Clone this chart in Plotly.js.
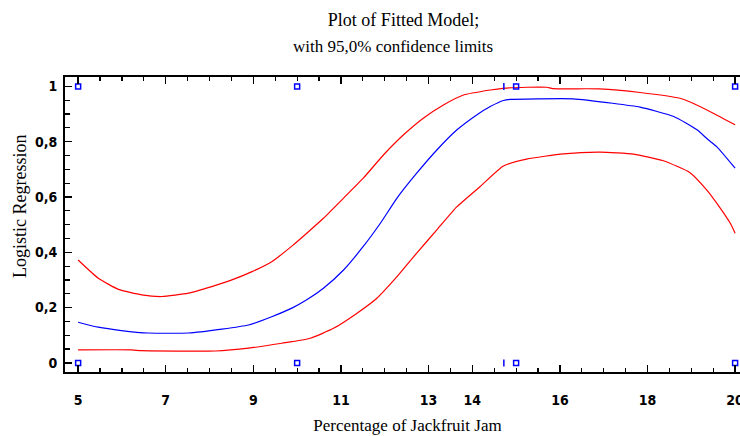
<!DOCTYPE html>
<html>
<head>
<meta charset="utf-8">
<script src="https://cdn.plot.ly/plotly-3.0.1.min.js"></script>
<style>
  html, body { margin: 0; padding: 0; background: #ffffff; overflow: hidden; }
  #chart { width: 760px; height: 436px; }
</style>
</head>
<body>
<div id="chart"></div>
<script>
// ---- data ----
const fitX = [5.0, 5.46, 5.99, 6.6, 7.52, 8.28, 8.89, 9.42, 9.88, 10.22, 10.6, 11.06, 11.51, 11.9, 12.28, 12.73, 13.19, 13.65, 14.1, 14.41, 14.71, 14.86, 15.5, 16.3, 17.2, 17.83, 18.6, 19.13, 19.38, 19.58, 20.0];
const fitY = [0.147, 0.129, 0.117, 0.108, 0.108, 0.122, 0.137, 0.167, 0.198, 0.228, 0.270, 0.336, 0.421, 0.505, 0.596, 0.686, 0.770, 0.843, 0.897, 0.927, 0.949, 0.953, 0.955, 0.955, 0.939, 0.925, 0.891, 0.843, 0.808, 0.782, 0.704];

const upperX = [5.0, 5.46, 5.92, 6.45, 6.91, 7.52, 8.05, 8.51, 8.97, 9.42, 9.9, 10.22, 10.6, 11.06, 11.51, 11.97, 12.43, 12.88, 13.34, 13.8, 14.41, 14.7, 15.25, 15.7, 15.84, 16.9, 17.83, 18.74, 19.04, 19.5, 20.0];
const upperY = [0.372, 0.306, 0.266, 0.246, 0.240, 0.252, 0.276, 0.300, 0.330, 0.366, 0.425, 0.469, 0.523, 0.596, 0.668, 0.752, 0.825, 0.885, 0.933, 0.969, 0.987, 0.993, 0.997, 0.997, 0.992, 0.991, 0.978, 0.957, 0.939, 0.903, 0.861];

const lowerX = [5.0, 6.22, 6.45, 8.13, 8.89, 9.65, 10.3, 10.83, 11.36, 11.82, 12.28, 12.73, 13.19, 13.65, 14.18, 14.71, 15.24, 16.08, 16.92, 17.68, 18.36, 18.97, 19.35, 19.58, 19.89, 20.0];
const lowerY = [0.047, 0.047, 0.044, 0.043, 0.053, 0.071, 0.089, 0.125, 0.179, 0.234, 0.312, 0.397, 0.481, 0.565, 0.638, 0.712, 0.737, 0.756, 0.762, 0.755, 0.731, 0.688, 0.626, 0.578, 0.505, 0.469];

const obsX = [5, 5, 10, 10, 15, 15, 20, 20];
const obsY = [0, 1, 0, 1, 0, 1, 0, 1];
const markX = [14.72, 14.72];
const markY = [0, 1];

const xTickVals = [5, 7, 9, 11, 13, 14, 16, 18, 20];
const xTickText = ['5', '7', '9', '11', '13', '14', '16', '18', '20'];
const yTickVals = [0, 0.2, 0.4, 0.6, 0.8, 1];
const yTickText = ['0', '0,2', '0,4', '0,6', '0,8', '1'];

// ---- chart ----
const serif = 'Liberation Serif, Times New Roman, serif';
const narrow = 'Liberation Sans Narrow, Arial Narrow, DejaVu Sans Condensed, sans-serif';

const traces = [
  { x: upperX, y: upperY, mode: 'lines', line: { color: '#ff0000', width: 1.2, shape: 'spline', smoothing: 0.5 }, hoverinfo: 'skip', name: 'upper' },
  { x: lowerX, y: lowerY, mode: 'lines', line: { color: '#ff0000', width: 1.2, shape: 'spline', smoothing: 0.5 }, hoverinfo: 'skip', name: 'lower' },
  { x: fitX, y: fitY, mode: 'lines', line: { color: '#0000ff', width: 1.2, shape: 'spline', smoothing: 0.5 }, name: 'fit' },
  { x: obsX, y: obsY, mode: 'markers', marker: { symbol: 'square-open', size: 5, color: '#0000ff', line: { width: 1.5, color: '#0000ff' } }, name: 'observed', cliponaxis: false },
  { x: markX, y: markY, mode: 'markers', marker: { symbol: 'line-ns-open', size: 5, color: '#0000ff', line: { width: 1.5, color: '#0000ff' } }, name: 'obs2', cliponaxis: false }
];

const axisCommon = {
  showgrid: false,
  zeroline: false,
  showline: true,
  linecolor: '#000000',
  linewidth: 2,
  ticks: 'inside',
  ticklen: 7,
  tickwidth: 1.5,
  tickcolor: '#000000',
  mirror: 'ticks',
  tickmode: 'array',
  tickfont: { family: narrow, size: 14, color: '#000000', weight: 'bold' }
};

const layout = {
  width: 760,
  height: 436,
  margin: { l: 65, r: 10, t: 77, b: 64 },
  paper_bgcolor: '#ffffff',
  plot_bgcolor: '#ffffff',
  showlegend: false,
  title: {
    text: 'Plot of Fitted Model;',
    font: { family: serif, size: 18, color: '#000000' },
    xref: 'container', yref: 'container',
    x: 393 / 740, y: 1 - 20 / 436, xanchor: 'center', yanchor: 'middle'
  },
  xaxis: Object.assign({}, axisCommon, {
    range: [4.7, 20.34],
    tickvals: xTickVals,
    ticktext: xTickText,
    ticklabelstandoff: 14,
    minor: { dtick: 0.5, tick0: 5, ticks: 'inside', ticklen: 4, tickwidth: 1.2, tickcolor: '#000000', showgrid: false },
    title: { text: 'Percentage of Jackfruit Jam', font: { family: serif, size: 17, color: '#000000' }, standoff: 12 }
  }),
  yaxis: Object.assign({}, axisCommon, {
    range: [-0.033, 1.034],
    tickvals: yTickVals,
    ticktext: yTickText,
    ticklabelstandoff: 3,
    minor: { dtick: 0.05, tick0: 0, ticks: 'inside', ticklen: 5, tickwidth: 1.2, tickcolor: '#000000', showgrid: false }
  }),
  annotations: [
    {
      text: 'with 95,0% confidence limits',
      xref: 'paper', yref: 'paper',
      x: (393 - 65) / 685, y: (372 - 46) / 295,
      xanchor: 'center', yanchor: 'middle', showarrow: false,
      font: { family: serif, size: 17, color: '#000000' }
    },
    {
      text: 'Logistic Regression',
      xref: 'paper', yref: 'paper',
      x: (20 - 65) / 685, y: (372 - 207) / 295,
      xanchor: 'center', yanchor: 'middle', showarrow: false, textangle: -90,
      font: { family: serif, size: 18, color: '#000000' }
    }
  ]
};

Plotly.newPlot('chart', traces, layout, { staticPlot: true, displayModeBar: false });
</script>
</body>
</html>
